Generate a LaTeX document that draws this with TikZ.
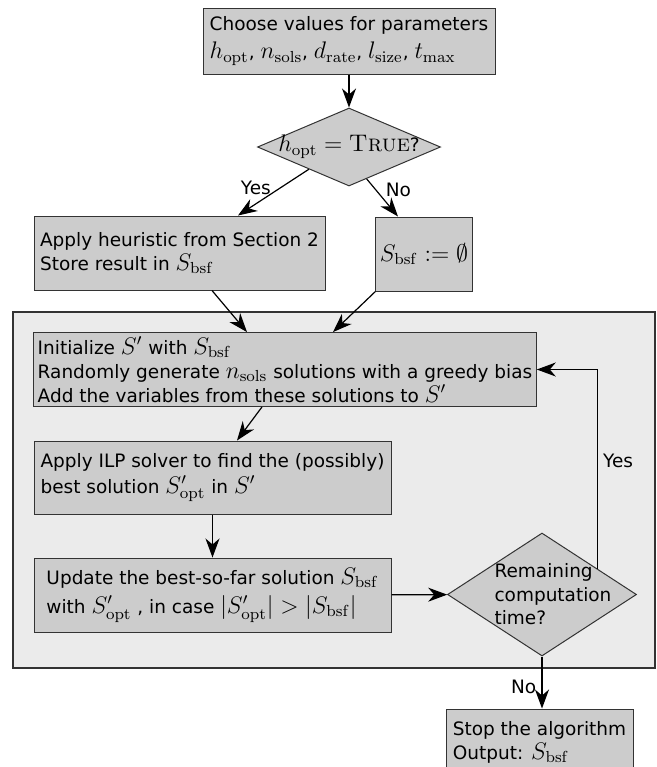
\documentclass[tikz,border=0pt]{standalone}
\usepackage{amsmath}
\usepackage{amssymb}
\usepackage[no-math]{fontspec}
\setmainfont[Scale=0.77]{DejaVu Sans}
\usepackage{tikz}
\usetikzlibrary{arrows.meta,calc,shapes.geometric}

\newcommand{\lmsc}[1]{{\fontfamily{lmr}\fontshape{sc}\selectfont #1}}
\newcommand{\Sbsf}{S_{\mathrm{bsf}}}
\newcommand{\Sopt}{S'_{\mathrm{opt}}}

\definecolor{boxgray}{HTML}{CCCCCC}
\definecolor{loopgray}{HTML}{EBEBEB}
\definecolor{edgegray}{HTML}{333333}

\tikzset{
  every node/.style={font=\fontsize{12}{12}\selectfont},
  stepbox/.style={rectangle, draw=edgegray, fill=boxgray, line width=0.5pt, align=left, inner sep=2pt},
  decision/.style={diamond, draw=edgegray, fill=boxgray, line width=0.5pt, align=left, inner sep=0pt},
  flow/.style={-{Stealth[length=9.5pt,width=7pt,inset=3pt]}, line width=0.6pt},
  loopframe/.style={draw=edgegray, fill=loopgray, line width=0.6pt}
}

\begin{document}
\begin{tikzpicture}[x=0.5pt,y=-0.5pt]

\useasboundingbox (0,0) rectangle (657,767);
\clip (0,0) rectangle (657,767);

% Loop frame
\draw[loopframe] (13,312) rectangle (655,668);

% Parameters
\node[stepbox, minimum width=146pt, minimum height=33pt] (params) at (349,41)
  {Choose values for parameters\\[2pt]
   $h_{\mathrm{opt}}$, $n_{\mathrm{sols}}$, $d_{\mathrm{rate}}$, $l_{\mathrm{size}}$, $t_{\max}$};

% Heuristic decision
\node[decision, shape aspect=2.35, inner sep=-4pt, minimum width=91.5pt, minimum height=39pt] (hopt) at (349,147)
  {$h_{\mathrm{opt}} = \text{\lmsc{True}?}$};

% Initial solution
\node[stepbox, minimum width=145.5pt, minimum height=37pt] (heur) at (179.5,253)
  {Apply heuristic from Section 2\\ Store result in $\Sbsf$};
\node[stepbox, minimum width=46pt, minimum height=37pt] (empty) at (424,254)
  {$\Sbsf := \emptyset$};

% Loop body
\node[stepbox, minimum width=251pt, minimum height=36.5pt] (init) at (285,369.5)
  {Initialize $S'$ with $\Sbsf$\\
   Randomly generate $n_{\mathrm{sols}}$ solutions with a greedy bias\\
   Add the variables from these solutions to $S'$};
\node[stepbox, minimum width=178.5pt, minimum height=36.5pt] (ilp) at (212.5,477.5)
  {Apply ILP solver to find the (possibly)\\[1pt] best solution $\Sopt$ in $S'$};
\node[stepbox, minimum width=178.5pt, minimum height=37pt] (upd) at (212.5,595)
  {Update the best-so-far solution $\Sbsf$\\[2.5pt]
   with $\Sopt$ , in case $|\Sopt| > |\Sbsf|$};

% Time decision
\node[decision, shape aspect=1.5, inner sep=-12pt, minimum width=94.5pt, minimum height=61.5pt,
      font=\fontsize{12}{11.75}\selectfont] (remain) at (542,594.5)
  {\hspace*{11pt}Remaining\\ \hspace*{11pt}computation\\ \hspace*{11pt}time?};

% Stop
\node[stepbox, minimum width=93.5pt, minimum height=33pt] (stop) at (539.5,742)
  {Stop the algorithm\\ Output: $\Sbsf$};

% Connectors
\draw[flow] (params) -- (hopt);
\draw[flow] (hopt.-151) -- node[pos=0.4, left, xshift=-2pt] {Yes} ($(heur.north)+(58.5,0)$);
\draw[flow] (hopt.-61) -- node[pos=0.3, right, xshift=2pt] {No} ($(empty.north)+(-26,0)$);
\draw[flow] ($(heur.south)+(32.5,0)$) -- ($(init.north)+(-38,0)$);
\draw[flow] (empty.south west) -- ($(init.north)+(48,0)$);
\draw[flow] ($(init.south)+(-23,0)$) -- ($(ilp.north)+(24.5,0)$);
\draw[flow] (ilp) -- (upd);
\draw[flow] (upd) -- (remain);
\draw[flow] (remain.25) |- node[pos=0.27, right] {Yes} (init.east);
\draw[flow] (remain.south) -- node[midway, left, yshift=-2pt] {No} (remain.south |- stop.north);

\end{tikzpicture}
\end{document}
